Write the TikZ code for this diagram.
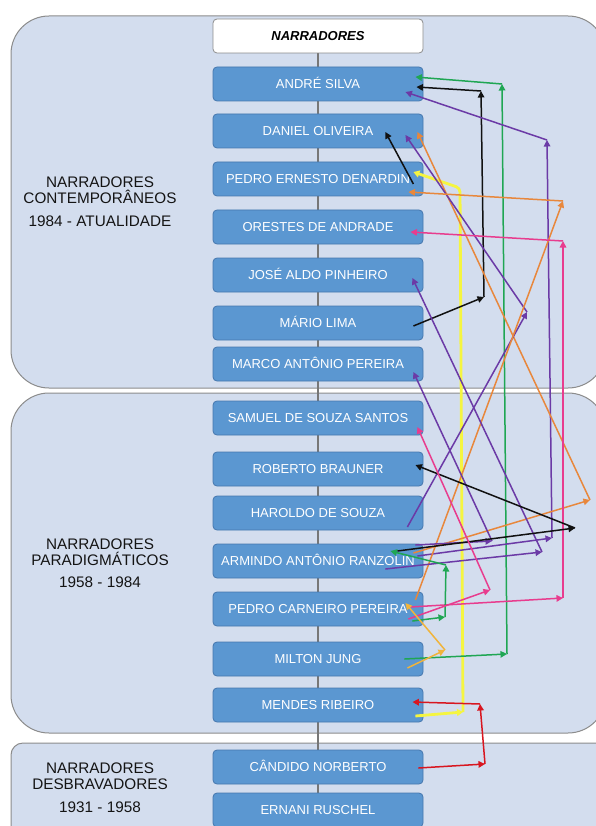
\documentclass[tikz,border=0pt]{standalone}
\usepackage{fontspec}
\setmainfont{Liberation Sans}
\usetikzlibrary{arrows.meta,calc}
\definecolor{panelfill}{HTML}{D3DDEE}
\definecolor{panelline}{HTML}{8C8C8C}
\definecolor{boxfill}{HTML}{5B97D1}
\definecolor{boxline}{HTML}{4677AE}
\definecolor{cgreen}{HTML}{1FA653}
\definecolor{cblack}{HTML}{111111}
\definecolor{cpurple}{HTML}{6B3AA6}
\definecolor{corange}{HTML}{E8873C}
\definecolor{cyellow}{HTML}{F5F540}
\definecolor{cpink}{HTML}{E83C8E}
\definecolor{cred}{HTML}{D8161F}
\definecolor{cgold}{HTML}{F0B43C}
\pgfdeclarelayer{bg}
\pgfdeclarelayer{mid}
\pgfsetlayers{bg,mid,main}
\begin{document}
\begin{tikzpicture}[x=1pt,y=-1pt,
  panel/.style={draw=panelline, fill=panelfill, line width=1pt},
  namebox/.style={draw=boxline, fill=boxfill, rounded corners=4pt, minimum width=210pt,
    minimum height=34pt, inner sep=0pt, text=white, line width=0.8pt,
    font=\fontsize{13}{15}\selectfont, text height=9.3pt, text depth=0pt},
  hdrbox/.style={namebox, draw=panelline, fill=white, text=black},
  sidelabel/.style={anchor=base, inner sep=0pt, text=black!92,
    font=\fontsize{15.3}{16}\selectfont},
  con/.style={line width=1.5pt, -{Triangle[length=6.5pt,width=6.5pt]}},
  ycon/.style={line width=2.8pt, -{Triangle[length=6pt,width=7pt]}, rounded corners=4pt}
]
\useasboundingbox (0,0) rectangle (595,826);

% background and panels
\begin{pgfonlayer}{bg}
\fill[white] (0,0) rectangle (595,826);
\draw[panel, rounded corners=38pt] (11,16) rectangle (606,388);
\draw[panel, rounded corners=38pt] (11,393) rectangle (606,733);
\draw[panel, rounded corners=12pt] (11,743) rectangle (625,860);
\end{pgfonlayer}

% side labels
\node[sidelabel] (l1a) at (100,188) {NARRADORES};
\node[sidelabel] (l1b) at (100,204) {CONTEMPORÂNEOS};
\node[sidelabel] (l1c) at (100,226) {1984 - ATUALIDADE};
\node[sidelabel] (l2a) at (100,549) {NARRADORES};
\node[sidelabel] (l2b) at (100,565) {PARADIGMÁTICOS};
\node[sidelabel] (l2c) at (100,587) {1958 - 1984};
\node[sidelabel] (l3a) at (100,773) {NARRADORES};
\node[sidelabel] (l3b) at (100,789) {DESBRAVADORES};
\node[sidelabel] (l3c) at (100,812) {1931 - 1958};

% column
\node[hdrbox] (hdr) at (318,36) {\bfseries\itshape NARRADORES};
\node[namebox] (andre) at (318,84) {ANDRÉ SILVA};
\node[namebox] (daniel) at (318,131) {DANIEL OLIVEIRA};
\node[namebox] (pedroe) at (318,179) {PEDRO ERNESTO DENARDIN};
\node[namebox] (orestes) at (318,227) {ORESTES DE ANDRADE};
\node[namebox] (jose) at (318,275) {JOSÉ ALDO PINHEIRO};
\node[namebox] (mario) at (318,323) {MÁRIO LIMA};
\node[namebox] (marco) at (318,364) {MARCO ANTÔNIO PEREIRA};
\node[namebox] (samuel) at (318,418) {SAMUEL DE SOUZA SANTOS};
\node[namebox] (roberto) at (318,469) {ROBERTO BRAUNER};
\node[namebox] (haroldo) at (318,513) {HAROLDO DE SOUZA};
\node[namebox] (armindo) at (318,561) {ARMINDO ANTÔNIO RANZOLIN};
\node[namebox] (pedroc) at (318,609) {PEDRO CARNEIRO PEREIRA};
\node[namebox] (milton) at (318,659) {MILTON JUNG};
\node[namebox] (mendes) at (318,705) {MENDES RIBEIRO};
\node[namebox] (candido) at (318,767) {CÂNDIDO NORBERTO};
\node[namebox] (ernani) at (318,810) {ERNANI RUSCHEL};

\begin{pgfonlayer}{mid}
\draw[panelline!85!black, line width=1.1pt] (hdr.south) -- (ernani.north);
\end{pgfonlayer}

% free corner points
\coordinate (g1) at (507,654);
\coordinate (g2) at (502,84);
\coordinate (b1) at (484,297);
\coordinate (b2) at (481,91);
\coordinate (p1) at (552,538);
\coordinate (p2) at (547,140);
\coordinate (o1) at (590,500);
\coordinate (ph) at (527,312);
\coordinate (y1) at (463,712);
\coordinate (y2) at (460,188);
\coordinate (o2) at (563,201);
\coordinate (k1) at (563,598);
\coordinate (k2) at (563,241);
\coordinate (pj) at (542,552);
\coordinate (pm) at (492,541);
\coordinate (b3) at (575,528);
\coordinate (g3) at (445,617);
\coordinate (g4) at (446,565);
\coordinate (k3) at (490,590);
\coordinate (au) at (445,650);
\coordinate (r1) at (485,764);
\coordinate (r2) at (480,704);

% yellow: Mendes -> Pedro Ernesto
\draw[ycon, cyellow] ($(mendes.east)+(-8,11)$) -- (y1);
\draw[ycon, cyellow] (y1) -- (y2) -- ($(pedroe.east)+(-10,-7)$);

% green: Milton -> Andre
\draw[con, cgreen] ($(milton.east)+(-19,0)$) -- (g1);
\draw[con, cgreen] (g1) -- (g2);
\draw[con, cgreen] (g2) -- ($(andre.east)+(-8,-7)$);

% black: Mario -> Andre
\draw[con, cblack] ($(mario.east)+(-10,3)$) -- (b1);
\draw[con, cblack] (b1) -- (b2);
\draw[con, cblack] (b2) -- ($(andre.east)+(-7,3)$);

% purple: Armindo -> Andre
\draw[con, cpurple] ($(armindo.east)+(-6,-5)$) -- (p1);
\draw[con, cpurple] (p1) -- (p2);
\draw[con, cpurple] (p2) -- ($(andre.east)+(-18,8)$);

% orange: Armindo -> Daniel
\draw[con, corange] ($(armindo.east)+(-10,-8)$) -- (o1);
\draw[con, corange] (o1) -- ($(daniel.east)+(-6,1)$);

% purple: Haroldo -> Daniel
\draw[con, cpurple] ($(haroldo.east)+(-16,14)$) -- (ph);
\draw[con, cpurple] (ph) -- ($(daniel.east)+(-18,4)$);

% black: Pedro Ernesto -> Daniel
\draw[con, cblack] ($(pedroe.east)+(-10,5)$) -- ($(daniel.east)+(-38,1)$);

% orange: Pedro Carneiro -> Pedro Ernesto
\draw[con, corange] ($(pedroc.east)+(-8,-9)$) -- (o2);
\draw[con, corange] (o2) -- ($(pedroe.east)+(-15,13)$);

% pink: Pedro Carneiro -> Orestes
\draw[con, cpink] ($(pedroc.east)+(-13,-2)$) -- (k1);
\draw[con, cpink] (k1) -- (k2);
\draw[con, cpink] (k2) -- ($(orestes.east)+(-13,5)$);

% purple: Armindo -> Jose
\draw[con, cpurple] ($(armindo.east)+(-38,8)$) -- (pj);
\draw[con, cpurple] (pj) -- ($(jose.east)+(-11,3)$);

% purple: Armindo -> Marco
\draw[con, cpurple] ($(armindo.east)+(-8,-16)$) -- (pm);
\draw[con, cpurple] (pm) -- ($(marco.east)+(-10,8)$);

% black: Armindo -> Roberto
\draw[con, cblack] ($(armindo.east)+(-26,-10)$) -- (b3);
\draw[con, cblack] (b3) -- ($(roberto.east)+(-8,-4)$);

% green: Pedro Carneiro -> Armindo
\draw[con, cgreen] ($(pedroc.east)+(-11,12)$) -- (g3);
\draw[con, cgreen] (g3) -- (g4);
\draw[con, cgreen] (g4) -- ($(armindo.east)+(-33,-10)$);

% pink: Pedro Carneiro -> Samuel
\draw[con, cpink] ($(pedroc.east)+(-15,10)$) -- (k3);
\draw[con, cpink] (k3) -- ($(samuel.east)+(-6,9)$);

% gold: Milton -> Pedro Carneiro
\draw[con, cgold] ($(milton.east)+(-16,9)$) -- (au);
\draw[con, cgold] (au) -- ($(pedroc.east)+(-18,-6)$);

% red: Candido -> Mendes
\draw[con, cred] ($(candido.east)+(-5,1)$) -- (r1);
\draw[con, cred] (r1) -- (r2);
\draw[con, cred] (r2) -- ($(mendes.east)+(-11,-3)$);
\end{tikzpicture}
\end{document}
